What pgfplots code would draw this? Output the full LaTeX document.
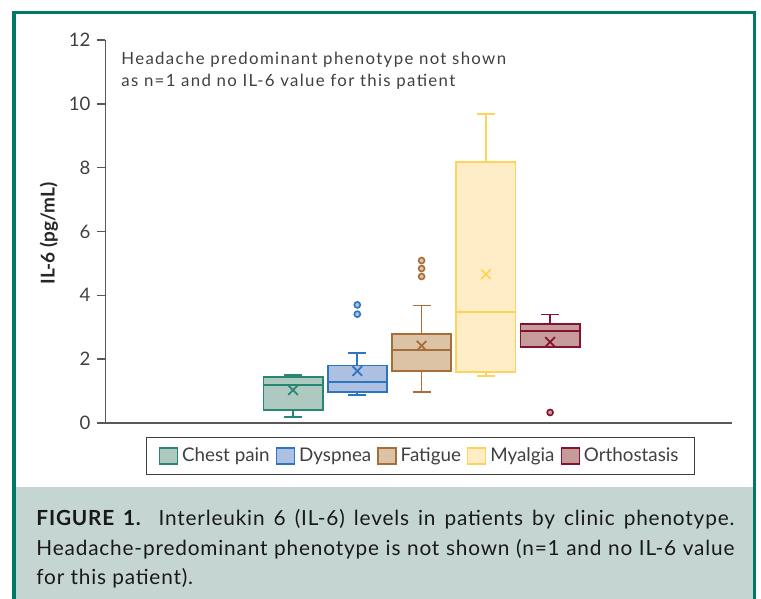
\documentclass[border=0pt]{standalone}
\usepackage{fontspec}
\setmainfont{Lato}
\usepackage{pgfplots}
\pgfplotsset{compat=1.18}
\usepgfplotslibrary{statistics}
\definecolor{framec}{RGB}{0,122,102}
\definecolor{capbg}{RGB}{197,214,210}
\definecolor{axc}{RGB}{89,89,89}
\definecolor{txt}{RGB}{64,64,64}
\definecolor{cpE}{RGB}{40,135,115}\definecolor{cpF}{RGB}{173,201,192}
\definecolor{dyE}{RGB}{46,117,192}\definecolor{dyF}{RGB}{173,192,226}
\definecolor{faE}{RGB}{168,110,58}\definecolor{faF}{RGB}{220,195,166}
\definecolor{myE}{RGB}{255,210,90}\definecolor{myF}{RGB}{255,237,200}
\definecolor{orE}{RGB}{130,20,50}\definecolor{orF}{RGB}{200,155,155}
\pgfplotsset{
  bx/.style n args={2}{draw=#1, fill=#2, line width=0.9pt, solid, mark=*, mark size=1.5pt,
     mark options={draw=#1, fill=#2, line width=0.8pt}, forget plot,
     boxplot/draw direction=y,
     boxplot/every whisker/.style={draw=#1, line width=0.9pt},
     boxplot/every median/.style={draw=#1, line width=0.9pt},
     boxplot/every box/.style={draw=#1, fill=#2, line width=0.9pt}},
  mn/.style={only marks, mark=x, mark size=3.4pt, color=#1, line width=0.9pt, forget plot},
  lg/.style n args={2}{draw=#1, fill=#2, line width=0.7pt,
     /pgfplots/legend image code/.code={\draw[##1] (0pt,-4pt) rectangle (9pt,4pt);}},
}
\begin{document}
\begin{tikzpicture}[x=0.5pt,y=-0.5pt]
\path[use as bounding box] (0,0) rectangle (761,599);
\fill[capbg] (15.5,487) rectangle (753,599);
\draw[framec, line width=1.7pt] (14,600) -- (14,12.5) -- (754.5,12.5) -- (754.5,600);
\coordinate (O) at (105.5,423);
\begin{axis}[at={(O)}, anchor=south west,
  width=313.25pt, height=191.5pt, scale only axis,
  xmin=-1.918, xmax=7.83, ymin=0, ymax=12,
  axis x line*=bottom, axis y line*=left,
  axis line style={axc, line width=0.8pt},
  xtick=\empty, ytick={0,2,...,12},
  tick align=outside, major tick length=4pt,
  tick style={axc, line width=0.8pt},
  /pgf/number format/assume math mode=true,
  yticklabel style={font=\fontsize{9.3}{11}\selectfont, text=txt},
  legend columns=5,
  legend style={at={(axis description cs:0.503,-0.0366)}, anchor=north,
    draw=txt, line width=0.7pt, font=\fontsize{9.4}{11}\selectfont, text=txt,
    inner xsep=6pt, inner ysep=3pt,
    /tikz/every even column/.append style={column sep=1pt}},
  legend cell align=left,
]
\addplot[bx={cpE}{cpF}, boxplot prepared={lower whisker=0.20, lower quartile=0.41, median=1.19,
  upper quartile=1.45, upper whisker=1.50, draw position=1, box extend=0.92, whisker extend=0.28}]
  coordinates {};
\addplot[mn=cpE] coordinates {(1,1.03)};
\addplot[bx={dyE}{dyF}, boxplot prepared={lower whisker=0.87, lower quartile=0.97, median=1.29,
  upper quartile=1.80, upper whisker=2.20, draw position=2, box extend=0.92, whisker extend=0.28}]
  table[row sep=\\, y index=0] {v\\ 3.41\\ 3.70\\};
\addplot[mn=dyE] coordinates {(2,1.63)};
\addplot[bx={faE}{faF}, boxplot prepared={lower whisker=0.98, lower quartile=1.62, median=2.28,
  upper quartile=2.79, upper whisker=3.68, draw position=3, box extend=0.92, whisker extend=0.28}]
  table[row sep=\\, y index=0] {v\\ 4.59\\ 4.84\\ 5.09\\};
\addplot[mn=faE] coordinates {(3,2.42)};
\addplot[bx={myE}{myF}, boxplot prepared={lower whisker=1.48, lower quartile=1.61, median=3.49,
  upper quartile=8.17, upper whisker=9.69, draw position=4, box extend=0.92, whisker extend=0.28}]
  coordinates {};
\addplot[mn=myE] coordinates {(4,4.66)};
\addplot[bx={orE}{orF}, boxplot prepared={lower whisker=2.38, lower quartile=2.38, median=2.88,
  upper quartile=3.09, upper whisker=3.40, draw position=5, box extend=0.92, whisker extend=0.28}]
  table[row sep=\\, y index=0] {v\\ 0.33\\};
\addplot[mn=orE] coordinates {(5,2.54)};
\addlegendimage{lg={cpE}{cpF}}\addlegendentry{Chest pain}
\addlegendimage{lg={dyE}{dyF}}\addlegendentry{Dyspnea}
\addlegendimage{lg={faE}{faF}}\addlegendentry{Fatigue}
\addlegendimage{lg={myE}{myF}}\addlegendentry{Myalgia}
\addlegendimage{lg={orE}{orF}}\addlegendentry{Orthostasis}
\end{axis}
\node[anchor=north west, align=left, inner sep=0, text=txt,
  font=\fontsize{8.4}{11}\selectfont\addfontfeature{LetterSpace=8}] at (121,52)
  {Headache predominant phenotype not shown\\as n=1 and no IL-6 value for this patient};
\node[rotate=90, font=\bfseries\fontsize{9.5}{11}\selectfont, text=black!85] at (49,233.5) {IL-6 (pg/mL)};
\node[anchor=north west, inner sep=0, text width=349pt, align=justify, text=black!90,
  font=\fontsize{10.4}{14.75}\selectfont\addfontfeature{LetterSpace=4}] at (36,509)
  {\textbf{FIGURE 1.} Interleukin 6 (IL-6) levels in patients by clinic phenotype.\linebreak
   Headache-predominant phenotype is not shown (n=1 and no IL-6 value\linebreak
   for this patient).};
\end{tikzpicture}
\end{document}
